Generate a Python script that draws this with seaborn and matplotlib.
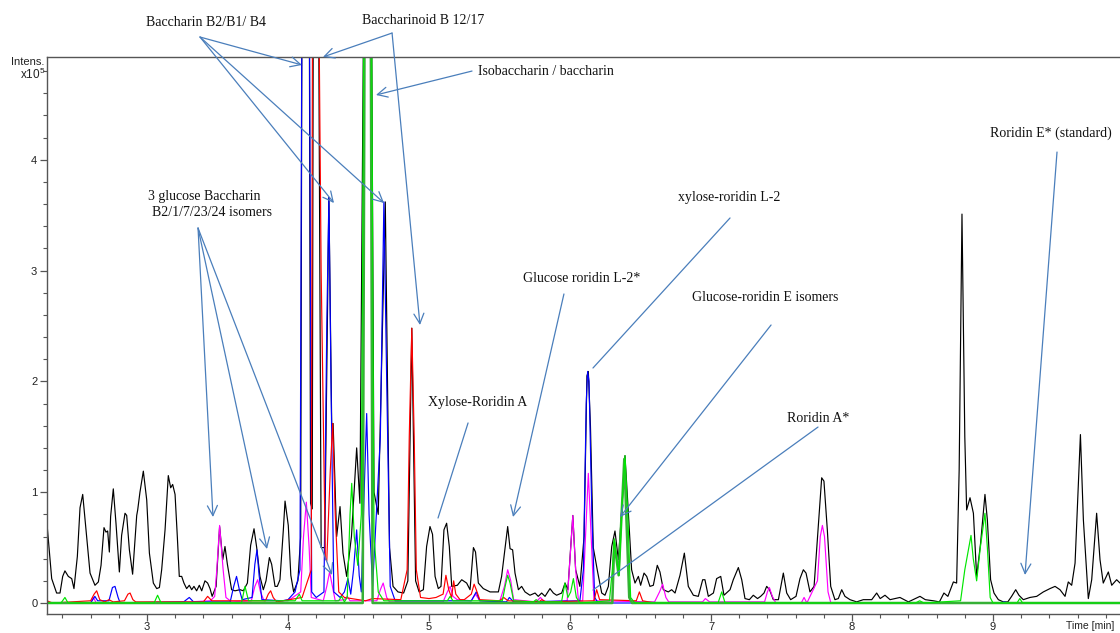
import numpy as np
import pandas as pd
import matplotlib
matplotlib.use("Agg")
import matplotlib.pyplot as plt
from matplotlib.ticker import MultipleLocator
import seaborn as sns

# ---------------- data (time in min, intensity in x10^5) ----------------
black_t = [2.293, 2.324, 2.359, 2.383, 2.402, 2.418, 2.442, 2.466, 2.482, 2.506, 2.525, 2.544, 2.572, 2.596,
           2.631, 2.655, 2.674, 2.695, 2.709, 2.721, 2.733, 2.742, 2.761, 2.780, 2.804, 2.820, 2.844, 2.856,
           2.875, 2.898, 2.927, 2.934, 2.950, 2.974, 2.998, 3.017, 3.045, 3.069, 3.088, 3.104, 3.128, 3.151,
           3.168, 3.182, 3.199, 3.215, 3.229, 3.246, 3.262, 3.281, 3.300, 3.317, 3.333, 3.352, 3.371, 3.388,
           3.411, 3.430, 3.447, 3.462, 3.490, 3.515, 3.537, 3.553, 3.570, 3.600, 3.624, 3.660, 3.683, 3.712,
           3.735, 3.759, 3.778, 3.801, 3.825, 3.844, 3.868, 3.884, 3.908, 3.924, 3.943, 3.967, 3.979, 4.002,
           4.020, 4.040, 4.070, 4.090, 4.100, 4.150, 4.160, 4.172, 4.180, 4.215, 4.235, 4.260, 4.290, 4.310,
           4.320, 4.345, 4.369, 4.390, 4.416, 4.450, 4.487, 4.510, 4.540, 4.590, 4.610, 4.640, 4.690, 4.720,
           4.745, 4.780, 4.820, 4.850, 4.878, 4.905, 4.930, 4.960, 4.983, 5.007, 5.025, 5.043, 5.066, 5.085,
           5.106, 5.125, 5.144, 5.161, 5.201, 5.232, 5.267, 5.291, 5.315, 5.330, 5.350, 5.385, 5.433, 5.492,
           5.515, 5.539, 5.558, 5.575, 5.593, 5.610, 5.634, 5.657, 5.681, 5.716, 5.752, 5.775, 5.799, 5.823,
           5.858, 5.882, 5.905, 5.941, 5.965, 5.985, 6.005, 6.020, 6.040, 6.070, 6.100, 6.120, 6.130, 6.145,
           6.165, 6.196, 6.225, 6.248, 6.272, 6.296, 6.319, 6.343, 6.370, 6.390, 6.410, 6.437, 6.461, 6.485,
           6.501, 6.525, 6.544, 6.567, 6.591, 6.619, 6.638, 6.662, 6.697, 6.721, 6.745, 6.780, 6.811, 6.839,
           6.875, 6.910, 6.941, 6.957, 6.981, 7.017, 7.040, 7.069, 7.092, 7.135, 7.158, 7.194, 7.218, 7.241,
           7.272, 7.300, 7.330, 7.352, 7.376, 7.395, 7.415, 7.442, 7.478, 7.513, 7.537, 7.565, 7.603, 7.631,
           7.655, 7.674, 7.702, 7.731, 7.761, 7.785, 7.801, 7.825, 7.849, 7.879, 7.903, 7.927, 7.950, 7.986,
           8.033, 8.080, 8.140, 8.175, 8.200, 8.234, 8.270, 8.340, 8.400, 8.482, 8.520, 8.577, 8.620, 8.652,
           8.680, 8.719, 8.742, 8.760, 8.780, 8.800, 8.813, 8.837, 8.861, 8.884, 8.912, 8.943, 8.960, 8.983,
           9.007, 9.038, 9.073, 9.105, 9.132, 9.161, 9.184, 9.215, 9.262, 9.310, 9.357, 9.404, 9.440, 9.475,
           9.511, 9.534, 9.558, 9.582, 9.620, 9.641, 9.676, 9.700, 9.735, 9.759, 9.782, 9.818, 9.842, 9.877,
           9.901, 9.950]
black_i = [0.68, 0.22, 0.09, 0.09, 0.24, 0.29, 0.24, 0.22, 0.13, 0.42, 0.86, 0.98, 0.60, 0.27,
           0.16, 0.19, 0.34, 0.68, 0.64, 0.65, 0.46, 0.78, 1.03, 0.72, 0.28, 0.61, 0.81, 0.79,
           0.48, 0.26, 0.79, 0.84, 1.00, 1.19, 0.93, 0.45, 0.18, 0.13, 0.14, 0.30, 0.66, 1.15,
           1.04, 1.07, 0.98, 0.60, 0.24, 0.24, 0.18, 0.13, 0.16, 0.12, 0.15, 0.11, 0.16, 0.11,
           0.20, 0.18, 0.13, 0.06, 0.15, 0.69, 0.39, 0.51, 0.35, 0.12, 0.11, 0.12, 0.11, 0.18,
           0.52, 0.67, 0.50, 0.24, 0.12, 0.20, 0.41, 0.35, 0.15, 0.15, 0.21, 0.66, 0.92, 0.70,
           0.25, 0.10, 0.20, 0.60, 6.00, 6.00, 0.90, 0.85, 6.00, 6.00, 0.50, 0.50, 3.66, 1.60,
           1.62, 0.60, 0.87, 0.45, 0.24, 0.60, 1.40, 0.90, 6.00, 6.00, 1.00, 0.80, 3.62, 0.50,
           0.15, 0.10, 0.09, 0.20, 2.48, 0.20, 0.10, 0.12, 0.51, 0.69, 0.62, 0.24, 0.13, 0.15,
           0.66, 0.72, 0.51, 0.15, 0.16, 0.21, 0.18, 0.12, 0.50, 0.46, 0.18, 0.13, 0.10, 0.10,
           0.24, 0.49, 0.69, 0.49, 0.48, 0.27, 0.12, 0.15, 0.10, 0.07, 0.09, 0.06, 0.09, 0.06,
           0.13, 0.09, 0.07, 0.09, 0.18, 0.12, 0.50, 0.79, 0.30, 0.15, 0.60, 2.05, 2.09, 1.60,
           0.50, 0.28, 0.09, 0.07, 0.15, 0.51, 0.65, 0.39, 0.90, 1.33, 0.90, 0.30, 0.18, 0.24,
           0.16, 0.27, 0.24, 0.15, 0.16, 0.34, 0.28, 0.12, 0.10, 0.12, 0.09, 0.25, 0.45, 0.15,
           0.07, 0.06, 0.21, 0.21, 0.06, 0.09, 0.22, 0.24, 0.07, 0.12, 0.21, 0.32, 0.21, 0.04,
           0.03, 0.07, 0.04, 0.06, 0.09, 0.15, 0.12, 0.03, 0.03, 0.27, 0.09, 0.03, 0.06, 0.22,
           0.30, 0.27, 0.10, 0.15, 0.69, 1.13, 1.10, 0.66, 0.15, 0.03, 0.04, 0.12, 0.06, 0.03,
           0.01, 0.03, 0.03, 0.09, 0.04, 0.07, 0.03, 0.05, 0.01, 0.06, 0.03, 0.02, 0.01, 0.09,
           0.06, 0.19, 0.18, 1.20, 3.51, 1.50, 0.84, 0.95, 0.81, 0.24, 0.54, 0.98, 0.75, 0.21,
           0.09, 0.03, 0.01, 0.01, 0.06, 0.12, 0.07, 0.03, 0.05, 0.06, 0.10, 0.13, 0.15, 0.12,
           0.06, 0.19, 0.16, 0.36, 1.52, 0.75, 0.04, 0.21, 0.81, 0.39, 0.18, 0.28, 0.16, 0.21,
           0.18, 0.20]

magenta_t = [2.29, 2.60, 2.62, 2.64, 3.30, 3.45, 3.480, 3.495, 3.515, 3.540, 3.560, 3.60, 3.74, 3.765,
             3.785, 3.805, 3.830, 4.00, 4.090, 4.110, 4.130, 4.150, 4.165, 4.25, 4.275, 4.295, 4.315,
             4.335, 4.40, 4.42, 4.44, 4.63, 4.655, 4.675, 4.70, 4.72, 5.10, 5.130, 5.150, 5.170, 5.20,
             5.30, 5.33, 5.36, 5.50, 5.535, 5.558, 5.580, 5.60, 5.76, 5.79, 5.82, 5.98, 6.000, 6.020,
             6.040, 6.060, 6.09, 6.110, 6.130, 6.150, 6.170, 6.60, 6.635, 6.657, 6.680, 6.70, 6.94,
             6.96, 6.99, 7.38, 7.400, 7.414, 7.435, 7.46, 7.64, 7.66, 7.68, 7.755, 7.775, 7.790, 7.805,
             7.830, 7.85, 9.95]
magenta_i = [0.0, 0.0, 0.05, 0.0, 0.01, 0.02, 0.06, 0.30, 0.70, 0.30, 0.05, 0.01, 0.02, 0.15,
             0.21, 0.10, 0.02, 0.02, 0.10, 0.60, 0.91, 0.50, 0.05, 0.02, 0.15, 0.28, 0.15,
             0.02, 0.03, 0.06, 0.02, 0.02, 0.12, 0.18, 0.05, 0.01, 0.01, 0.10, 0.15, 0.06, 0.03,
             0.02, 0.08, 0.02, 0.01, 0.15, 0.30, 0.20, 0.03, 0.01, 0.05, 0.01, 0.02, 0.40, 0.79,
             0.30, 0.02, 0.02, 0.60, 1.17, 0.60, 0.02, 0.01, 0.10, 0.17, 0.05, 0.01, 0.01,
             0.04, 0.01, 0.01, 0.10, 0.14, 0.06, 0.0, 0.0, 0.05, 0.0, 0.20, 0.60, 0.70, 0.60,
             0.10, 0.0, 0.0]

blue_t = [2.29, 2.60, 2.63, 2.65, 2.73, 2.755, 2.773, 2.795, 2.81, 3.26, 3.30, 3.33, 3.59, 3.615, 3.635,
          3.655, 3.675, 3.745, 3.765, 3.780, 3.795, 3.815, 3.96, 4.00, 4.05, 4.085, 4.100, 4.150, 4.168,
          4.20, 4.255, 4.275, 4.290, 4.305, 4.325, 4.37, 4.40, 4.425, 4.445, 4.465, 4.487, 4.505, 4.52,
          4.540, 4.558, 4.575, 4.60, 4.655, 4.680, 4.700, 4.725, 4.76, 5.30, 5.335, 5.36, 5.55, 5.57,
          5.60, 6.07, 6.095, 6.115, 6.125, 6.135, 6.155, 6.175, 6.20, 9.05, 9.08, 9.11, 9.95]
blue_i = [0.0, 0.0, 0.06, 0.02, 0.02, 0.14, 0.15, 0.05, 0.0, 0.01, 0.05, 0.01, 0.01, 0.15, 0.24,
          0.12, 0.03, 0.05, 0.35, 0.48, 0.25, 0.03, 0.02, 0.03, 0.10, 0.30, 6.00, 6.00, 0.10,
          0.05, 0.10, 2.50, 3.66, 2.00, 0.10, 0.05, 0.10, 0.22, 0.08, 0.30, 0.66, 0.25, 0.10,
          1.00, 1.71, 0.80, 0.15, 1.50, 3.62, 2.00, 0.15, 0.02, 0.02, 0.10, 0.02, 0.01, 0.05,
          0.01, 0.02, 0.30, 1.80, 2.09, 2.00, 0.80, 0.05, 0.0, 0.0, 0.01, 0.0, 0.0]

red_t = [2.29, 2.33, 2.60, 2.625, 2.643, 2.665, 2.70, 2.73, 2.76, 2.84, 2.865, 2.880, 2.90, 2.92, 3.40,
         3.43, 3.46, 3.84, 3.860, 3.877, 3.895, 3.92, 4.10, 4.165, 4.175, 4.215, 4.235, 4.265, 4.275,
         4.300, 4.317, 4.335, 4.36, 4.40, 4.55, 4.60, 4.80, 4.845, 4.860, 4.878, 4.895, 4.910, 4.94,
         5.00, 5.05, 5.10, 5.120, 5.140, 5.160, 5.175, 5.19, 5.22, 5.25, 5.30, 5.320, 5.335, 5.36,
         5.50, 5.53, 5.56, 5.78, 5.80, 5.83, 6.17, 6.189, 6.21, 6.47, 6.492, 6.515, 6.60, 9.95]
red_i = [0.02, 0.0, 0.02, 0.08, 0.11, 0.03, 0.01, 0.03, 0.01, 0.02, 0.08, 0.09, 0.03, 0.01, 0.01,
         0.06, 0.02, 0.02, 0.08, 0.11, 0.05, 0.01, 0.05, 0.30, 6.00, 6.00, 3.00, 0.40, 0.38,
         1.20, 1.62, 0.80, 0.10, 0.05, 0.02, 0.04, 0.03, 0.30, 1.50, 2.48, 1.50, 0.30, 0.05,
         0.04, 0.05, 0.08, 0.25, 0.12, 0.05, 0.20, 0.08, 0.03, 0.03, 0.08, 0.17, 0.12, 0.03,
         0.02, 0.05, 0.02, 0.01, 0.03, 0.01, 0.02, 0.12, 0.03, 0.02, 0.10, 0.02, 0.0, 0.0]

green_t = [2.29, 2.39, 2.418, 2.44, 3.05, 3.075, 3.10, 3.67, 3.695, 3.72, 4.05, 4.08, 4.10, 4.36, 4.38,
           4.40, 4.42, 4.440, 4.452, 4.470, 4.495, 4.52, 4.540, 4.590, 4.610, 4.64, 4.68, 5.13, 5.15,
           5.17, 5.52, 5.540, 5.558, 5.575, 5.60, 5.74, 5.76, 5.78, 5.94, 5.964, 5.985, 6.005, 6.024,
           6.045, 6.07, 6.28, 6.30, 6.314, 6.330, 6.348, 6.370, 6.390, 6.410, 6.430, 6.46, 7.05, 7.076,
           7.10, 8.45, 8.48, 8.51, 8.77, 8.800, 8.844, 8.860, 8.884, 8.910, 8.943, 8.960, 8.98, 9.00,
           9.17, 9.19, 9.21, 9.95]
green_i = [0.0, 0.0, 0.05, 0.0, 0.0, 0.07, 0.0, 0.0, 0.15, 0.02, 0.02, 0.08, 0.02, 0.02, 0.06,
           0.01, 0.05, 0.80, 1.08, 0.60, 0.34, 0.80, 6.00, 6.00, 0.60, 0.10, 0.02, 0.02, 0.06,
           0.02, 0.02, 0.15, 0.25, 0.18, 0.02, 0.01, 0.03, 0.01, 0.01, 0.18, 0.05, 0.10, 0.22,
           0.05, 0.0, 0.02, 0.30, 0.58, 0.40, 0.25, 0.90, 1.33, 0.80, 0.05, 0.0, 0.0, 0.10,
           0.0, 0.0, 0.02, 0.0, 0.02, 0.30, 0.61, 0.40, 0.20, 0.50, 0.81, 0.50, 0.05, 0.0,
           0.0, 0.04, 0.0, 0.0]

darkgreen_t = [2.29, 4.53, 4.545, 4.585, 4.60, 6.30, 6.314, 6.345, 6.385, 6.42, 6.44, 9.95]
darkgreen_i = [0.0, 0.0, 6.00, 6.00, 0.0, 0.0, 0.55, 0.25, 1.30, 0.05, 0.0, 0.0]

y_ticks = [0, 1, 2, 3, 4]
x_ticks = [3, 4, 5, 6, 7, 8, 9]

# annotation labels (text, text position, alignment, arrow start, arrow targets, arrowhead?)
labels = [
    ("Baccharin B2/B1/ B4", (3.418, 5.235), "center", (3.376, 5.108),
     [(4.099, 4.856), (4.326, 3.61), (4.681, 3.61)], True),
    ("Baccharinoid B 12/17", (4.957, 5.253), "center", (4.738, 5.144),
     [(4.248, 4.928), (4.936, 2.509)], True),
    ("Isobaccharin / baccharin", (5.348, 4.801), "left", (5.305, 4.801),
     [(4.624, 4.585)], True),
    ("3 glucose Baccharin", (3.007, 3.673), "left", (3.362, 3.384),
     [(3.468, 0.776), (3.851, 0.487), (4.312, 0.253)], True),
    ("B2/1/7/23/24 isomers", (3.035, 3.52), "left", None, [], True),
    ("Xylose-Roridin A", (4.993, 1.814), "left", (5.277, 1.625), [(5.064, 0.767)], False),
    ("Glucose roridin L-2*", (5.667, 2.933), "left", (5.957, 2.789), [(5.596, 0.776)], True),
    ("xylose-roridin L-2", (6.766, 3.664), "left", (7.135, 3.475), [(6.163, 2.121)], False),
    ("Glucose-roridin E isomers", (6.865, 2.753), "left", (7.426, 2.509), [(6.355, 0.776)], True),
    ("Roridin A*", (7.539, 1.661), "left", (7.759, 1.588), [(6.163, 0.117)], False),
    ("Roridin E* (standard)", (8.979, 4.242), "left", (9.454, 4.07), [(9.227, 0.253)], True),
]

# ---------------- styling ----------------
sns.set_theme(style="ticks")
plt.rcParams["font.family"] = ["Liberation Sans", "DejaVu Sans"]
plt.rcParams["mathtext.default"] = "regular"

W, H = 1120, 633
fig = plt.figure(figsize=(W / 100, H / 100), dpi=100)
ax_l, ax_r, ax_t, ax_b = 47, 1135, 57, 614
ax = fig.add_axes([ax_l / W, 1 - ax_b / H, (ax_r - ax_l) / W, (ax_b - ax_t) / H])

def px_to_x(px):
    return 3 + (px - 147) / 141.0

def py_to_y(py):
    return (603 - py) / 110.8

ax.set_xlim(px_to_x(ax_l), px_to_x(ax_r))
ax.set_ylim(py_to_y(ax_b), py_to_y(ax_t))

traces = [
    (black_t, black_i, "#000000", 0.85),
    (magenta_t, magenta_i, "#ff00ff", 0.85),
    (blue_t, blue_i, "#0000ff", 0.85),
    (red_t, red_i, "#ff0000", 0.85),
    (darkgreen_t, darkgreen_i, "#36b036", 1.8),
    (green_t, green_i, "#00e600", 0.85),
]
for t, i, c, lw in traces:
    df = pd.DataFrame({"time": t, "intensity": i})
    sns.lineplot(data=df, x="time", y="intensity", color=c, lw=lw, estimator=None,
                 sort=False, ax=ax, legend=False)

ax.set_xlabel("")
ax.set_ylabel("")
spine_col = "#555555"
for s in ["top", "left", "bottom", "right"]:
    ax.spines[s].set_visible(True)
    ax.spines[s].set_color(spine_col)
    ax.spines[s].set_linewidth(1.0)

ax.set_yticks(y_ticks)
ax.set_xticks(x_ticks)
ax.yaxis.set_minor_locator(MultipleLocator(0.2))
ax.xaxis.set_minor_locator(MultipleLocator(0.2))
ax.tick_params(axis="both", which="major", direction="out", length=5, width=0.9,
               color=spine_col, labelsize=8, labelcolor="#222222", pad=1)
ax.tick_params(axis="y", which="major", pad=2)
ax.tick_params(axis="both", which="minor", direction="out", length=3, width=0.8, color=spine_col)

fig.text(44 / W, 1 - 62 / H, "Intens.", ha="right", va="center", fontsize=8, color="#222222")
fig.text(45 / W, 1 - 74 / H, "x10$^5$", ha="right", va="center", fontsize=8.5, color="#222222")
fig.text(1066 / W, 1 - 626 / H, "Time [min]", ha="left", va="center", fontsize=7.5, color="#222222")

# ---------------- annotations ----------------
ann_col = "#4a7ebb"
for text, (tx, ty), ha, start, targets, head in labels:
    ax.text(tx, ty, text, ha=ha, va="center", fontsize=10, family=["Liberation Serif"],
            color="#111111", clip_on=False)
    for tgt in targets:
        style = "->,head_length=0.6,head_width=0.3" if head else "-"
        ax.annotate("", xy=tgt, xytext=start, xycoords="data", textcoords="data",
                    annotation_clip=False,
                    arrowprops=dict(arrowstyle=style, color=ann_col, lw=0.9,
                                    shrinkA=0, shrinkB=0, mutation_scale=12))

fig.savefig("out.png", dpi=100)
